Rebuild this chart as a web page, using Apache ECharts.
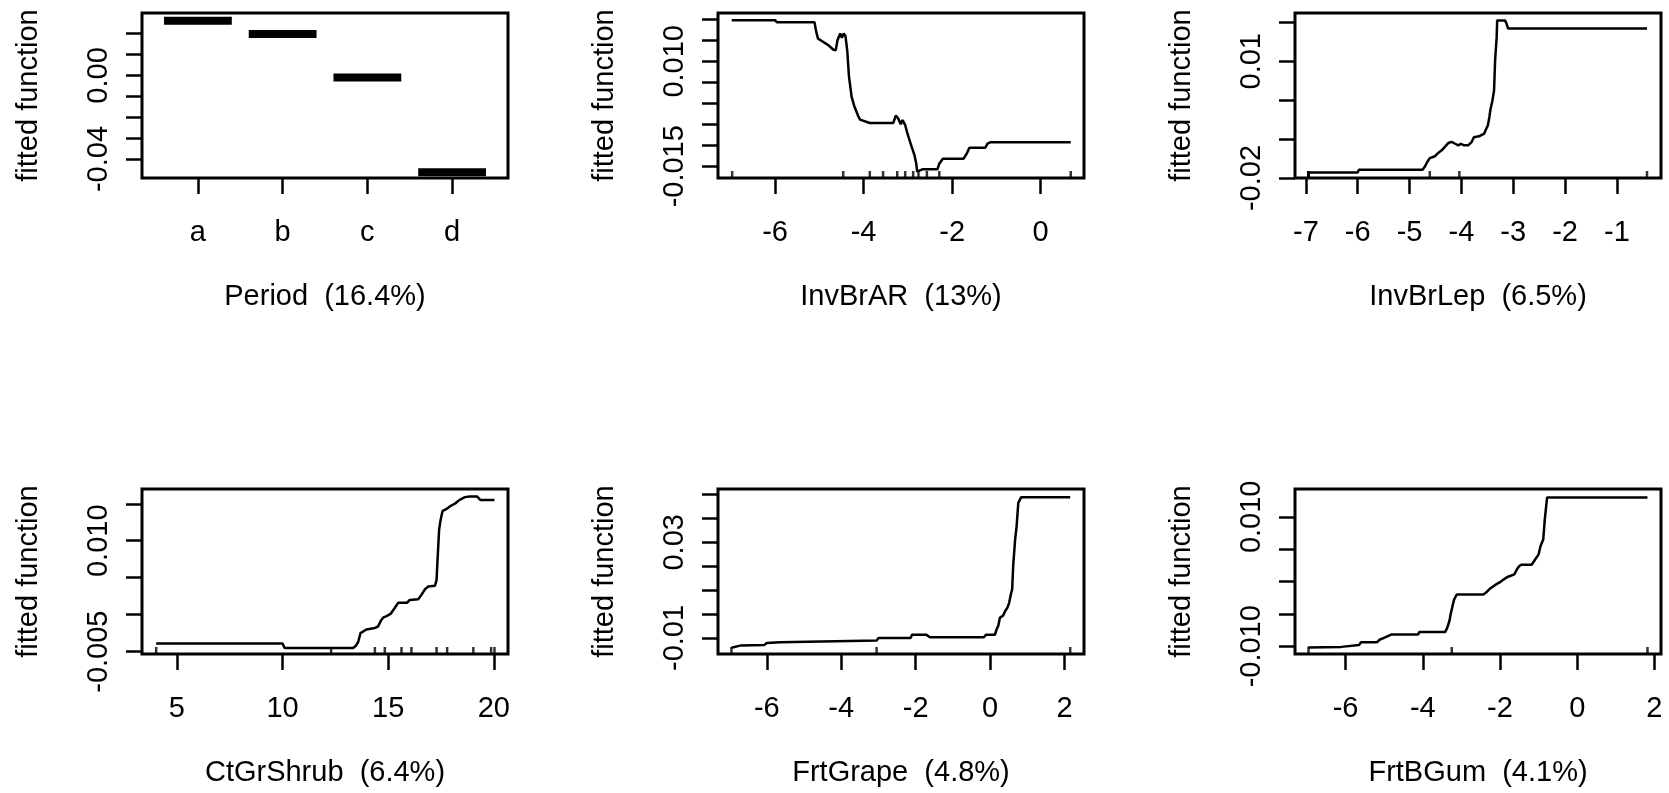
<!DOCTYPE html>
<html><head><meta charset="utf-8">
<script src="https://cdn.jsdelivr.net/npm/echarts@6/dist/echarts.min.js"></script>
<style>html,body{margin:0;padding:0;background:#fff}#c{width:1669px;height:793px}</style>
</head><body><div id="c"></div>
<script>
// ---------- DATA ----------
const periodCategories = ['a', 'b', 'c', 'd'];
const periodValues = [0.0262, 0.0198, -0.0010, -0.0464];

const invBrARCurve = [[-6.98,0.0198],[-6.00,0.0198],[-5.96,0.0193],[-5.11,0.0193],[-5.07,0.0170],[-5.03,0.0154],[-4.91,0.0146],[-4.79,0.0138],[-4.69,0.0128],[-4.63,0.0126],[-4.59,0.0150],[-4.53,0.0166],[-4.49,0.0156],[-4.45,0.0166],[-4.41,0.0160],[-4.37,0.0126],[-4.33,0.0063],[-4.27,0.0015],[-4.21,-0.0007],[-4.12,-0.0031],[-4.08,-0.0039],[-3.86,-0.0047],[-3.33,-0.0047],[-3.27,-0.0029],[-3.22,-0.0036],[-3.16,-0.0050],[-3.12,-0.0040],[-3.06,-0.0052],[-3.01,-0.0072],[-2.95,-0.0092],[-2.90,-0.0108],[-2.85,-0.0124],[-2.81,-0.0144],[-2.79,-0.0163],[-2.66,-0.0157],[-2.33,-0.0157],[-2.29,-0.0144],[-2.21,-0.0132],[-1.74,-0.0132],[-1.67,-0.0120],[-1.61,-0.0106],[-1.25,-0.0106],[-1.20,-0.0096],[-1.14,-0.0093],[0.68,-0.0093]];
const invBrARRug = [-6.97,-4.46,-3.86,-3.56,-3.24,-3.06,-2.88,-2.76,-2.57,-2.29,0.68];

const invBrLepCurve = [[-6.95,-0.0186],[-6.00,-0.0186],[-5.98,-0.0179],[-4.75,-0.0179],[-4.70,-0.0170],[-4.66,-0.0159],[-4.61,-0.0149],[-4.51,-0.0144],[-4.45,-0.0136],[-4.38,-0.0129],[-4.32,-0.0120],[-4.25,-0.0110],[-4.19,-0.0107],[-4.12,-0.0112],[-4.06,-0.0116],[-4.01,-0.0112],[-3.95,-0.0116],[-3.87,-0.0116],[-3.80,-0.0107],[-3.76,-0.0095],[-3.66,-0.0093],[-3.56,-0.0086],[-3.53,-0.0076],[-3.49,-0.0065],[-3.46,-0.0043],[-3.44,-0.0024],[-3.40,0.0000],[-3.37,0.0025],[-3.35,0.0103],[-3.32,0.0162],[-3.31,0.0205],[-3.16,0.0205],[-3.13,0.0197],[-3.10,0.0184],[-0.42,0.0184]];
const invBrLepRug = [-6.95,-6.95,-6.95,-6.95,-6.95,-4.61,-4.04,-0.42];

const ctGrShrubCurve = [[4.02,-0.0039],[10.0,-0.0039],[10.1,-0.0045],[13.34,-0.0045],[13.47,-0.0042],[13.58,-0.0037],[13.69,-0.0025],[13.97,-0.0020],[14.37,-0.0018],[14.52,-0.0016],[14.64,-0.0009],[14.76,-0.0004],[14.92,-0.0002],[15.11,0.0001],[15.31,0.0009],[15.47,0.0016],[15.89,0.0016],[16.02,0.0020],[16.42,0.0021],[16.58,0.0027],[16.73,0.0034],[16.89,0.0038],[17.21,0.0039],[17.29,0.0047],[17.32,0.0065],[17.41,0.0115],[17.48,0.0128],[17.57,0.0140],[17.76,0.0143],[17.95,0.0147],[18.20,0.0151],[18.36,0.0155],[18.63,0.0159],[18.86,0.0160],[19.20,0.0160],[19.37,0.0155],[20.03,0.0155]];
const ctGrShrubRug = [4.02,12.3,14.37,14.84,15.63,16.10,17.29,17.79,19.03,19.87,20.03];

const frtGrapeCurve = [[-6.95,-0.0141],[-6.93,-0.0135],[-6.69,-0.0131],[-6.07,-0.0129],[-6.00,-0.0121],[-5.64,-0.0118],[-5.59,-0.0111],[-3.05,-0.0111],[-3.00,-0.0100],[-2.14,-0.0100],[-2.10,-0.0087],[-1.71,-0.0087],[-1.62,-0.0097],[-0.17,-0.0097],[-0.11,-0.0086],[0.13,-0.0086],[0.17,-0.0065],[0.22,-0.0048],[0.26,-0.0016],[0.35,-0.0006],[0.40,0.0012],[0.46,0.0026],[0.51,0.0047],[0.56,0.0086],[0.59,0.0102],[0.62,0.0207],[0.67,0.0311],[0.71,0.0367],[0.755,0.0465],[0.83,0.0488],[2.15,0.0488]];
const frtGrapeRug = [-6.95,-3.05,2.15];

const frtBGumCurve = [[-6.97,-0.0102],[-6.96,-0.0101],[-6.11,-0.0101],[-6.06,-0.0098],[-5.65,-0.0098],[-5.60,-0.0094],[-5.19,-0.0094],[-5.12,-0.0090],[-4.96,-0.0086],[-4.82,-0.0082],[-4.12,-0.0082],[-4.09,-0.0078],[-3.42,-0.0078],[-3.37,-0.0072],[-3.31,-0.0061],[-3.28,-0.0051],[-3.23,-0.0038],[-3.19,-0.0028],[-3.12,-0.0020],[-2.43,-0.0020],[-2.36,-0.0017],[-2.28,-0.0012],[-2.19,-0.0008],[-2.09,-0.0004],[-2.00,-0.0001],[-1.91,0.0003],[-1.81,0.0007],[-1.72,0.0009],[-1.63,0.0011],[-1.56,0.0019],[-1.50,0.0024],[-1.44,0.0026],[-1.18,0.0026],[-1.09,0.0034],[-1.00,0.0042],[-0.95,0.0055],[-0.88,0.0065],[-0.84,0.0096],[-0.78,0.0130],[1.82,0.0130]];
const frtBGumRug = [-6.96,-3.25,1.82];

const xTitles = ['Period  (16.4%)', 'InvBrAR  (13%)', 'InvBrLep  (6.5%)', 'CtGrShrub  (6.4%)', 'FrtGrape  (4.8%)', 'FrtBGum  (4.1%)'];
const yTitle = 'fitted function';

const xTickValues = [[1,2,3,4], [-6,-4,-2,0], [-7,-6,-5,-4,-3,-2,-1], [5,10,15,20], [-6,-4,-2,0,2], [-6,-4,-2,0,2]];
const yTickValues = [
  [-0.04,-0.03,-0.02,-0.01,0,0.01,0.02],
  [-0.015,-0.01,-0.005,0,0.005,0.01,0.015,0.02],
  [-0.02,-0.01,0,0.01,0.02],
  [-0.005,0,0.005,0.01,0.015],
  [-0.01,0,0.01,0.02,0.03,0.04,0.05],
  [-0.01,-0.005,0,0.005,0.01]
];
const yLabelValues = [[-0.04,0], [-0.015,0.01], [-0.02,0.01], [-0.005,0.01], [-0.01,0.03], [-0.01,0.01]];
const yLabelDecimals = [2, 3, 2, 3, 2, 3];

// ---------- LAYOUT ----------
const xRanges = [[0.34,4.66],[-7.29,0.98],[-7.21,-0.15],[3.35,20.67],[-7.31,2.52],[-7.31,2.17]];
const yRanges = [[-0.0491,0.0299],[-0.0178,0.0215],[-0.0200,0.0224],[-0.00532,0.0170],[-0.0167,0.0523],[-0.0112,0.0143]];
const gridPos = [[142,13],[718,13],[1295,13],[142,489],[718,489],[1295,489]];
const curves = [null, invBrARCurve, invBrLepCurve, ctGrShrubCurve, frtGrapeCurve, frtBGumCurve];
const rugs = [null, invBrARRug, invBrLepRug, ctGrShrubRug, frtGrapeRug, frtBGumRug];

const FONT = "'Liberation Sans', Arial, sans-serif";
const FS = 29;
const txt = {color:'#000', fontSize:FS, fontFamily:FONT};

const grids = [], xAxes = [], yAxes = [], series = [];
for (let i = 0; i < 6; i++) {
  grids.push({left:gridPos[i][0], top:gridPos[i][1], width:366, height:165, show:true,
    borderColor:'#000', borderWidth:3, backgroundColor:'transparent', containLabel:false, outerBoundsMode:'none'});
  xAxes.push({
    type:'value', gridIndex:i, position:'bottom', min:xRanges[i][0], max:xRanges[i][1],
    axisLine:{show:false, onZero:false}, splitLine:{show:false},
    axisTick:{show:true, length:16, customValues:xTickValues[i], lineStyle:{color:'#000', width:2.5}},
    axisLabel:Object.assign({show:true, margin:40, customValues:xTickValues[i],
      formatter: i === 0 ? (v => periodCategories[Math.round(v) - 1]) : (v => String(v))}, txt),
    name:xTitles[i], nameLocation:'middle', nameGap:104, nameTextStyle:Object.assign({}, txt)
  });
  const dec = yLabelDecimals[i];
  yAxes.push({
    type:'value', gridIndex:i, position:'left', min:yRanges[i][0], max:yRanges[i][1],
    axisLine:{show:false, onZero:false}, splitLine:{show:false},
    axisTick:{show:true, length:16, customValues:yTickValues[i], lineStyle:{color:'#000', width:2.5}},
    axisLabel:Object.assign({show:true, rotate:90, margin:29, customValues:yLabelValues[i],
      formatter: v => Number(v).toFixed(dec)}, txt),
    name:yTitle, nameLocation:'middle', nameRotate:90, nameGap:99, nameTextStyle:Object.assign({}, txt)
  });
  if (i === 0) {
    periodValues.forEach((v, k) => {
      series.push({type:'line', xAxisIndex:0, yAxisIndex:0, symbol:'none', silent:true,
        lineStyle:{color:'#000', width:8, cap:'butt'},
        data:[[k + 1 - 0.4, v], [k + 1 + 0.4, v]]});
    });
  } else {
    series.push({type:'line', xAxisIndex:i, yAxisIndex:i, symbol:'none', silent:true,
      lineStyle:{color:'#000', width:2.5}, data:curves[i]});
    series.push({type:'scatter', xAxisIndex:i, yAxisIndex:i, silent:true,
      symbol:'rect', symbolSize:[2.5, 7], symbolOffset:[0, -3.5],
      itemStyle:{color:'#000'}, data:rugs[i].map(x => [x, yRanges[i][0]])});
  }
}

const chart = echarts.init(document.getElementById('c'), null, {renderer:'canvas'});
chart.setOption({animation:false, backgroundColor:'#fff', grid:grids, xAxis:xAxes, yAxis:yAxes, series:series});
</script>
</body></html>
